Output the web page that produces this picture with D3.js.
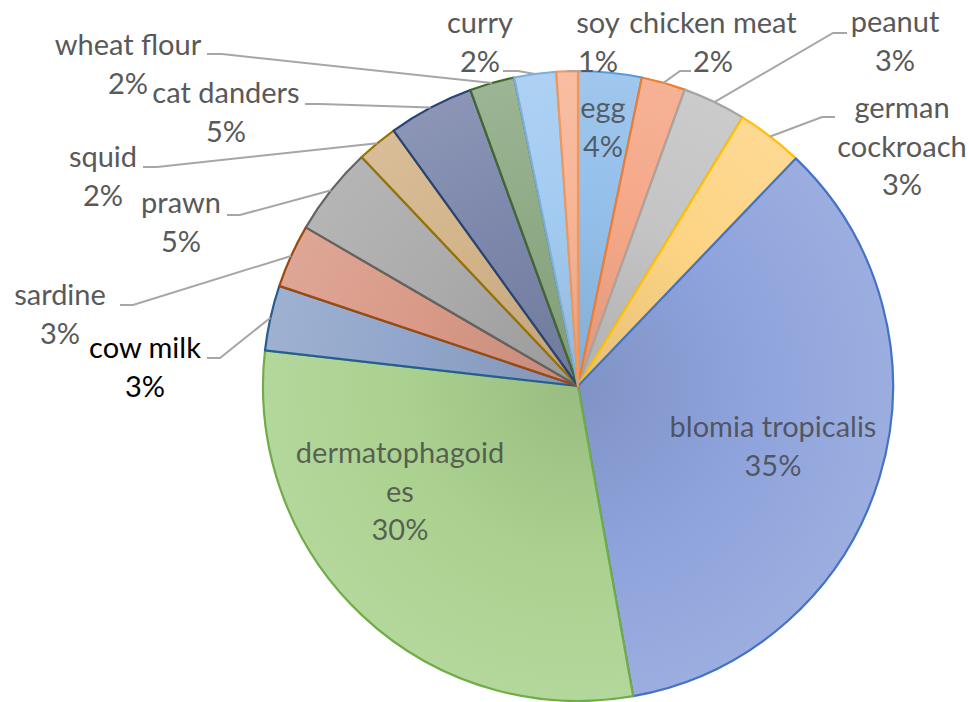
<!DOCTYPE html>
<html><head><meta charset="utf-8">
<script src="https://cdn.jsdelivr.net/npm/d3@7"></script>
<style>html,body{margin:0;padding:0;background:#fff;} svg{display:block;}</style>
</head><body>
<svg id="chart" width="969" height="702"></svg>
<script>
// ---- data ----
const categories = ["egg","chicken meat","peanut","german cockroach","blomia tropicalis","dermatophagoides","cow milk","sardine","prawn","squid","cat danders","wheat flour","curry","soy"];
const values = [3.25,2.25,3.25,3.4,35.05,29.6,3.35,3.25,4.55,2.1,4.4,2.3,2.15,1.1];
const percentLabels = ["4%","2%","3%","3%","35%","30%","3%","3%","5%","2%","5%","2%","2%","1%"];

// ---- styles ----
const fillColors = ["#93bfea","#f5a888","#c4c4c4","#fdd484","#8ea3dc","#aad18f","#91a6cb","#d99a88","#ababab","#d3b48a","#7c87ab","#8fab86","#a3cbf1","#f7b597"];
const strokeColors = ["#5b9bd5","#ed7d31","#a5a5a5","#ffc000","#4472c4","#70ad47","#255e91","#9e480e","#636363","#997300","#264478","#43682b","#7cafdd","#f1975a"];

// ---- layout (label placement) ----
const labelLayout = {
  "egg":              {x:603, y:118, lines:["egg"], inside:true},
  "chicken meat":     {x:713, y:33,  lines:["chicken meat"], attach:[691,71], elbow:680},
  "peanut":           {x:895, y:32,  lines:["peanut"], attach:[847,33], elbow:833},
  "german cockroach": {x:902, y:118, lines:["german","cockroach"], attach:[835,117], elbow:822},
  "blomia tropicalis":{x:773, y:437, lines:["blomia tropicalis"], inside:true},
  "dermatophagoides": {x:400, y:463, lines:["dermatophagoid","es"], inside:true},
  "cow milk":         {x:145, y:358, lines:["cow milk"], attach:[207,358], elbow:220, color:"#000"},
  "sardine":          {x:60,  y:305, lines:["sardine"], attach:[120,305], elbow:133},
  "prawn":            {x:181, y:213, lines:["prawn"], attach:[227,215], elbow:240},
  "squid":            {x:103, y:167, lines:["squid"], attach:[143,167], elbow:157},
  "cat danders":      {x:226, y:103, lines:["cat danders"], attach:[305,104], elbow:320},
  "wheat flour":      {x:128, y:55,  lines:["wheat flour"], attach:[207,54], elbow:222},
  "curry":            {x:480, y:33,  lines:["curry"], attach:[503,71], elbow:518},
  "soy":              {x:598, y:33,  lines:["soy"], attach:[581,71], elbow:581}
};
const cx = 578, cy = 386, radius = 315;
const fontSize = 29, lineH = 38.5;

const svg = d3.select("#chart");
const defs = svg.append("defs");
const g = svg.append("g").attr("transform", `translate(${cx},${cy})`);

const pie = d3.pie().sort(null).value(d => d).startAngle(0).endAngle(2*Math.PI);
const arcs = pie(values);
const arc = d3.arc().innerRadius(0).outerRadius(radius);
const edgeArc = d3.arc().innerRadius(radius).outerRadius(radius);

arcs.forEach((d,i) => {
  const gr = defs.append("radialGradient").attr("id","grad"+i)
    .attr("gradientUnits","userSpaceOnUse").attr("cx",0).attr("cy",0).attr("r",radius);
  gr.append("stop").attr("offset","0%").attr("stop-color", d3.interpolateRgb(fillColors[i], "#000")(0.10));
  gr.append("stop").attr("offset","55%").attr("stop-color", fillColors[i]);
  gr.append("stop").attr("offset","100%").attr("stop-color", d3.interpolateRgb(fillColors[i], "#fff")(0.12));
});

g.selectAll("path.slice").data(arcs).join("path")
  .attr("class","slice")
  .attr("d", arc)
  .attr("fill", (d,i) => `url(#grad${i})`)
  .attr("stroke", (d,i) => strokeColors[i])
  .attr("stroke-width", 2.2)
  .attr("stroke-linejoin","round");

// leader lines
const leaderG = svg.append("g");
arcs.forEach((d,i) => {
  const L = labelLayout[categories[i]];
  if (L.inside) return;
  const c = edgeArc.centroid(d);
  const end = [c[0] + cx, c[1] + cy];
  const pts = [L.attach, [L.elbow, L.attach[1]], end];
  leaderG.append("path")
    .attr("d", d3.line()(pts))
    .attr("fill","none").attr("stroke","#a6a6a6").attr("stroke-width",2);
});

// labels
const labelG = svg.append("g").attr("font-family","Lato, 'Open Sans', sans-serif").attr("font-size", fontSize);
arcs.forEach((d,i) => {
  const L = labelLayout[categories[i]];
  const lines = L.lines.concat([percentLabels[i]]);
  const t = labelG.append("text")
    .attr("text-anchor","middle")
    .attr("fill", L.color ? L.color : (L.inside ? "#404040" : "#595959"))
    .attr("fill-opacity", L.inside ? 0.78 : 1);
  lines.forEach((s,k) => {
    t.append("tspan").attr("x", L.x).attr("y", L.y + k*lineH).text(s);
  });
});
</script>
</body></html>
